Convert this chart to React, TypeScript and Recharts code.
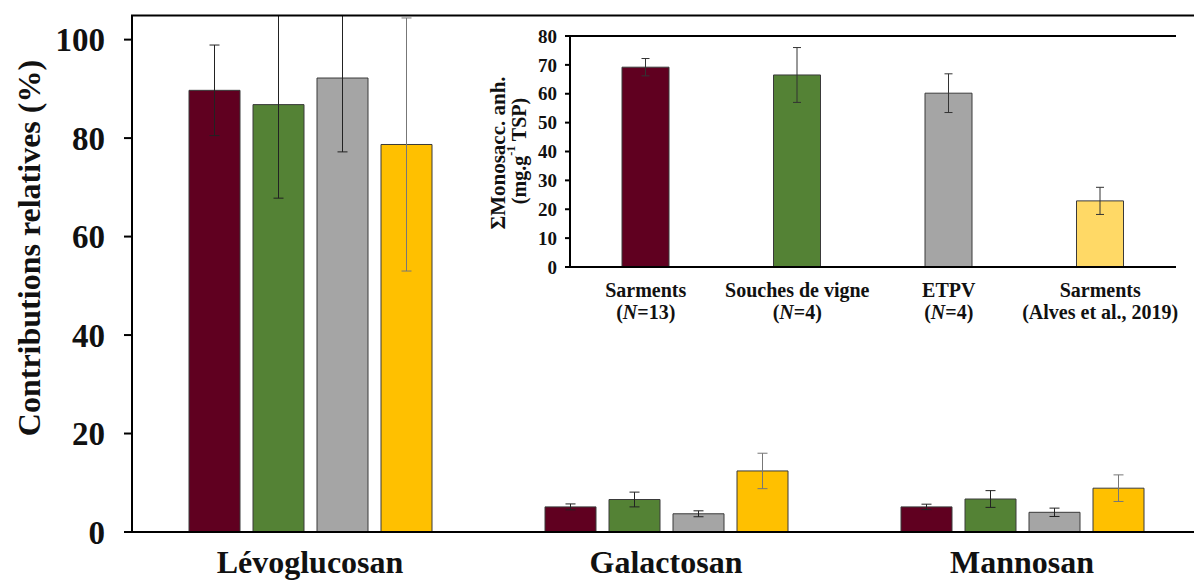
import React from 'react'
import { BarChart, Bar, XAxis, YAxis, ErrorBar, ReferenceLine, Cell } from 'recharts'

// main chart: relative contributions (%)
const mainCategories = ['Lévoglucosan', 'Galactosan', 'Mannosan']
const sarments = [89.7, 5.1, 5.1]
const sarmentsErr = [9.2, 0.6, 0.55]
const souches = [86.8, 6.6, 6.7]
const souchesErr = [19, 1.5, 1.7]
const etpv = [92.2, 3.7, 4.0]
const etpvErr = [15, 0.6, 0.85]
const alves = [78.7, 12.4, 8.9]
const alvesErr = [25.7, 3.6, 2.7]
const mainTicks = [0, 20, 40, 60, 80, 100]

// inset: sum of monosaccharide anhydrides (mg/g TSP)
const insetNames = ['Sarments', 'Souches de vigne', 'ETPV', 'Sarments']
const insetSub = ['(N=13)', '(N=4)', '(N=4)', '(Alves et al., 2019)']
const insetValues = [69.2, 66.5, 60.2, 22.9]
const insetErr = [3, 9.5, 6.7, 4.7]
const insetTicks = [0, 10, 20, 30, 40, 50, 60, 70, 80]

const FONT = "'Liberation Serif', 'Times New Roman', serif"
const C_MAROON = '#600020'
const C_GREEN = '#548235'
const C_GRAY = '#A5A5A5'
const C_YELLOW = '#FFC000'
const C_YELLOW_LIGHT = '#FFD966'
const OUTLINE = '#3a3a3a'

const mainData = mainCategories.map((name, i) => ({
  name,
  sarments: sarments[i],
  sarmentsErr: sarmentsErr[i],
  souches: souches[i],
  souchesErr: souchesErr[i],
  etpv: etpv[i],
  etpvErr: etpvErr[i],
  alves: alves[i],
  alvesErr: alvesErr[i],
}))

const insetData = insetNames.map((name, i) => ({
  name,
  value: insetValues[i],
  err: insetErr[i],
}))
const insetColors = [C_MAROON, C_GREEN, C_GRAY, C_YELLOW_LIGHT]

const InsetTick = (props: any) => {
  const { x, y, payload } = props
  const idx = payload?.index ?? props.index ?? 0
  const sub = insetSub[idx]
  const italic = sub.startsWith('(N=')
  return (
    <g>
      <text x={x} y={y + 30} textAnchor="middle" fontFamily={FONT} fontWeight="bold" fontSize={20} fill="#111">
        {insetNames[idx]}
      </text>
      <text x={x} y={y + 52} textAnchor="middle" fontFamily={FONT} fontWeight="bold" fontSize={20} fill="#111">
        {italic ? (
          <>
            <tspan>(</tspan>
            <tspan fontStyle="italic">N</tspan>
            <tspan>{sub.slice(2)}</tspan>
          </>
        ) : (
          sub
        )}
      </text>
    </g>
  )
}

export default function App() {
  return (
    <div style={{ position: 'fixed', left: 0, top: 0, width: 1194, height: 580, overflow: 'hidden', background: '#fff' }}>
      <div style={{ position: 'absolute', left: 0, top: 0 }}>
        <BarChart
          width={1200}
          height={600}
          data={mainData}
          margin={{ top: 15, right: 0, bottom: 0, left: 0 }}
          barSize={51}
          barGap={13}
        >
          <XAxis
            dataKey="name"
            height={68}
            tickSize={0}
            tickMargin={18}
            axisLine={{ stroke: '#000', strokeWidth: 2 }}
            tick={{ fontFamily: FONT, fontWeight: 'bold', fontSize: 32, fill: '#111' }}
          />
          <YAxis
            width={132}
            domain={[0, 105]}
            ticks={mainTicks}
            allowDataOverflow
            tickSize={8}
            tickMargin={19}
            axisLine={{ stroke: '#000', strokeWidth: 2 }}
            tickLine={{ stroke: '#000', strokeWidth: 2 }}
            tick={{ fontFamily: FONT, fontWeight: 'bold', fontSize: 33, fill: '#111' }}
          />
          <Bar dataKey="sarments" fill={C_MAROON} stroke={OUTLINE} strokeWidth={1} isAnimationActive={false}>
            <ErrorBar dataKey="sarmentsErr" width={5} stroke="#222" strokeWidth={1} />
          </Bar>
          <Bar dataKey="souches" fill={C_GREEN} stroke={OUTLINE} strokeWidth={1} isAnimationActive={false}>
            <ErrorBar dataKey="souchesErr" width={5} stroke="#222" strokeWidth={1} />
          </Bar>
          <Bar dataKey="etpv" fill={C_GRAY} stroke={OUTLINE} strokeWidth={1} isAnimationActive={false}>
            <ErrorBar dataKey="etpvErr" width={5} stroke="#222" strokeWidth={1} />
          </Bar>
          <Bar dataKey="alves" fill={C_YELLOW} stroke={OUTLINE} strokeWidth={1} isAnimationActive={false}>
            <ErrorBar dataKey="alvesErr" width={5} stroke="#777" strokeWidth={1} />
          </Bar>
        </BarChart>
        {/* plot frame: hide error bars running past the top border, then draw it */}
        <svg width={1194} height={540} style={{ position: 'absolute', left: 0, top: 0, pointerEvents: 'none' }}>
          <rect x={134} y={0} width={1060} height={15} fill="#fff" />
          <line x1={131} y1={15.5} x2={1194} y2={15.5} stroke="#000" strokeWidth={2} />
          <text
            x={29}
            y={248}
            transform="rotate(-90 29 248)"
            textAnchor="middle"
            dominantBaseline="central"
            fontFamily={FONT}
            fontWeight="bold"
            fontSize={32}
            fill="#111"
          >
            Contributions relatives (%)
          </text>
        </svg>
      </div>

      <div style={{ position: 'absolute', left: 440, top: 0, background: 'transparent' }}>
        <BarChart
          width={754}
          height={340}
          data={insetData}
          margin={{ top: 36, right: 18, bottom: 0, left: 0 }}
          barSize={47}
        >
          <rect x={130} y={36} width={606} height={231} fill="#fff" />
          <XAxis
            dataKey="name"
            height={73}
            tickSize={0}
            tickMargin={0}
            interval={0}
            axisLine={{ stroke: '#000', strokeWidth: 2 }}
            tick={<InsetTick />}
          />
          <YAxis
            width={130}
            domain={[0, 80]}
            ticks={insetTicks}
            tickSize={5}
            tickMargin={8}
            axisLine={{ stroke: '#000', strokeWidth: 2 }}
            tickLine={{ stroke: '#000', strokeWidth: 2 }}
            tick={{ fontFamily: FONT, fontWeight: 'bold', fontSize: 19, fill: '#111' }}
          />
          <YAxis yAxisId="right" orientation="right" width={0} domain={[0, 80]} tick={false} tickLine={false} axisLine={{ stroke: '#000', strokeWidth: 2 }} />
          <ReferenceLine y={80} stroke="#000" strokeWidth={2} />
          <Bar dataKey="value" stroke={OUTLINE} strokeWidth={1} isAnimationActive={false}>
            {insetData.map((_, i) => (
              <Cell key={i} fill={insetColors[i]} />
            ))}
            <ErrorBar dataKey="err" width={4} stroke="#333" strokeWidth={1} />
          </Bar>
        </BarChart>
        <svg width={130} height={300} style={{ position: 'absolute', left: 0, top: 0, pointerEvents: 'none' }}>
          <text
            x={58}
            y={153}
            transform="rotate(-90 58 153)"
            textAnchor="middle"
            dominantBaseline="central"
            fontFamily={FONT}
            fontWeight="bold"
            fontSize={21}
            fill="#111"
          >
            ΣMonosacc. anh.
          </text>
          <text
            x={79}
            y={151}
            transform="rotate(-90 79 151)"
            textAnchor="middle"
            dominantBaseline="central"
            fontFamily={FONT}
            fontWeight="bold"
            fontSize={20}
            fill="#111"
          >
            (mg.g
            <tspan fontSize={12} dy={-8}>-1</tspan>
            <tspan dy={8}> TSP)</tspan>
          </text>
        </svg>
      </div>
    </div>
  )
}
